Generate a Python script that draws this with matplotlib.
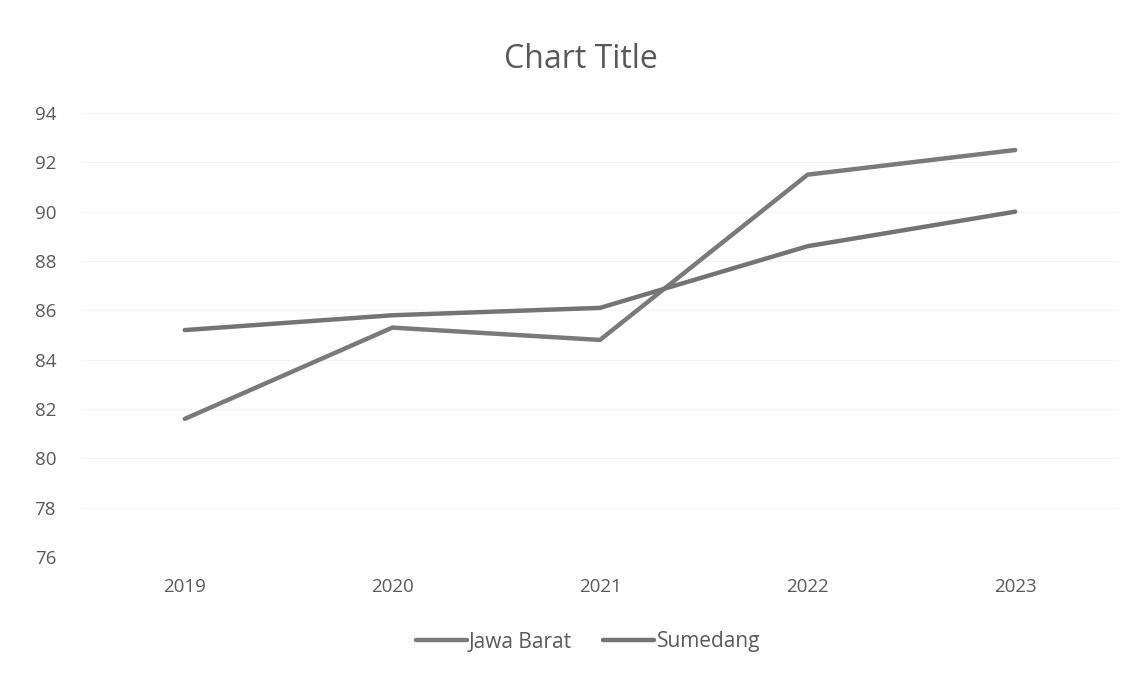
import matplotlib
matplotlib.use("Agg")
import matplotlib.pyplot as plt

years = ["2019", "2020", "2021", "2022", "2023"]
jawa_barat = [81.6, 85.3, 84.8, 91.5, 92.5]
sumedang = [85.2, 85.8, 86.1, 88.6, 90.0]
y_ticks = [76, 78, 80, 82, 84, 86, 88, 90, 92, 94]

plt.rcParams['font.family'] = ['Open Sans', 'DejaVu Sans']

fig = plt.figure(figsize=(11.47, 6.74), dpi=100)
ax = fig.add_axes([81/1147, 117/674, (1119-81)/1147, (557-113)/674])

x = list(range(len(years)))
ax.plot(x, jawa_barat, color='#7a7a7a', lw=3.2, label='Jawa Barat', solid_capstyle='round')
ax.plot(x, sumedang, color='#747474', lw=3.2, label='Sumedang', solid_capstyle='round')

ax.set_xlim(-0.5, len(years) - 0.5)
ax.set_ylim(76, 94)
ax.set_yticks(y_ticks)
ax.set_xticks(x)
ax.set_xticklabels(years)
ax.grid(axis='y', color='#f5f5f5', lw=0.8)
ax.set_axisbelow(True)
for s in ax.spines.values():
    s.set_visible(False)
ax.tick_params(length=0, labelsize=13.5, colors='#5a5a5a')
ax.tick_params(axis='y', pad=18)
ax.tick_params(axis='x', pad=15)

fig.text(581/1147, 1 - 59/674, 'Chart Title', ha='center', va='center', fontsize=23, color='#595959')

leg = fig.legend(loc='center', bbox_to_anchor=(588/1147, 1 - 642/674), ncol=2, frameon=False,
                 fontsize=15, handlelength=2.45, handletextpad=0.1, columnspacing=1.5)
for t in leg.get_texts():
    t.set_color('#5a5a5a')

fig.savefig('out.png', dpi=100, facecolor='white')
